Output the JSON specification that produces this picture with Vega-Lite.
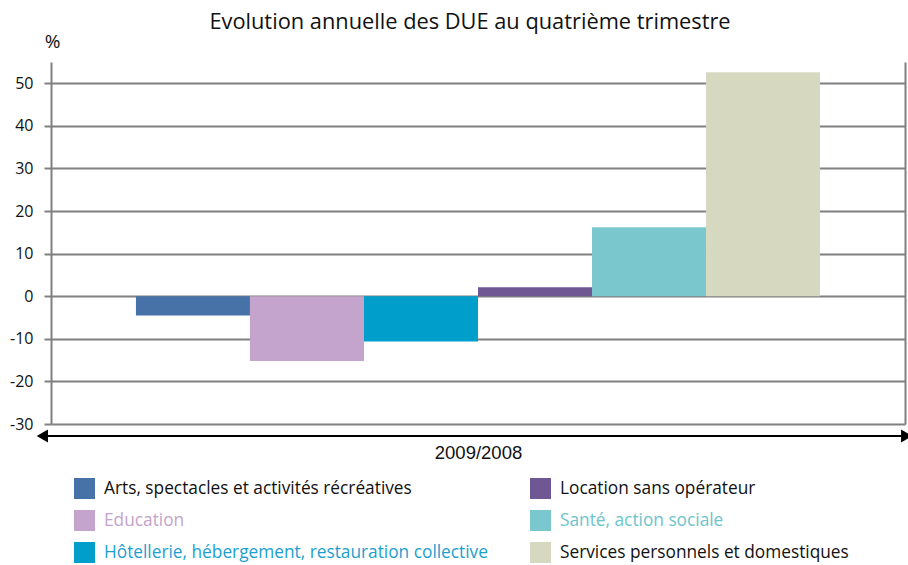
{
  "$schema": "https://vega.github.io/schema/vega-lite/v6.json",
  "width": 854,
  "height": 362,
  "autosize": {"type": "none"},
  "padding": {"left": 51, "top": 62, "right": 3, "bottom": 141},
  "background": "white",
  "config": {"view": {"stroke": null}, "font": "Open Sans"},
  "title": {
    "text": "Evolution annuelle des DUE au quatrième trimestre",
    "font": "Open Sans",
    "fontSize": 21.8,
    "fontWeight": "normal",
    "color": "#111111",
    "anchor": "middle",
    "frame": "group",
    "baseline": "alphabetic",
    "dx": -8,
    "offset": -19
  },
  "datasets": {
    "bars": [
      {"cat": "Arts, spectacles et activités récréatives", "value": -4.5},
      {"cat": "Education", "value": -15.2},
      {"cat": "Hôtellerie, hébergement, restauration collective", "value": -10.6},
      {"cat": "Location sans opérateur", "value": 2.1},
      {"cat": "Santé, action sociale", "value": 16.2},
      {"cat": "Services personnels et domestiques", "value": 52.6}
    ],
    "arrow": [{"a": 0, "b": 1}],
    "heads": [{"pos": 0, "shape": "triangle-left", "off": 4}, {"pos": 1, "shape": "triangle-right", "off": -4}]
  },
  "layer": [
    {
      "data": {"name": "bars"},
      "mark": {"type": "bar"},
      "encoding": {
        "x": {
          "field": "cat",
          "type": "nominal",
          "sort": null,
          "scale": {"paddingInner": 0, "paddingOuter": 0.745},
          "axis": {
            "labels": false,
            "ticks": false,
            "domain": false,
            "title": "2009/2008",
            "titleFont": "Liberation Sans",
            "titleFontSize": 18.5,
            "titleFontWeight": "normal",
            "titleColor": "#111111",
            "titlePadding": 19
          }
        },
        "y": {
          "field": "value",
          "type": "quantitative",
          "scale": {"domain": [-30, 55], "nice": false},
          "axis": {
            "values": [-30, -20, -10, 0, 10, 20, 30, 40, 50],
            "labelExpr": "'' + datum.value",
            "grid": true,
            "gridColor": "#808080",
            "gridWidth": 2,
            "gridOpacity": 1,
            "domain": true,
            "domainColor": "#808080",
            "domainWidth": 2,
            "ticks": true,
            "tickColor": "#808080",
            "tickWidth": 2,
            "tickSize": 7,
            "labelFont": "Open Sans",
            "labelFontSize": 16,
            "labelColor": "#111111",
            "labelPadding": 11,
            "title": "%",
            "titleAngle": 0,
            "titleX": 1,
            "titleY": -21,
            "titleAlign": "center",
            "titleBaseline": "middle",
            "titleFont": "Open Sans",
            "titleFontSize": 19,
            "titleFontWeight": "normal",
            "titleColor": "#111111"
          }
        },
        "color": {
          "field": "cat",
          "type": "nominal",
          "scale": {
            "domain": [
              "Arts, spectacles et activités récréatives",
              "Education",
              "Hôtellerie, hébergement, restauration collective",
              "Location sans opérateur",
              "Santé, action sociale",
              "Services personnels et domestiques"
            ],
            "range": ["#4672a8", "#c4a3cc", "#009ecb", "#6f5794", "#7ac7cd", "#d6d9c0"]
          },
          "legend": {
            "title": null,
            "orient": "none",
            "legendX": 23,
            "legendY": 416,
            "columns": 2,
            "symbolType": "square",
            "symbolSize": 441,
            "symbolStrokeWidth": 0,
            "symbolOpacity": 1,
            "labelFont": "Open Sans",
            "labelFontSize": 17.3,
            "labelOffset": 9,
            "labelLimit": 600,
            "rowPadding": 11,
            "columnPadding": 42,
            "encode": {
              "labels": {
                "update": {
                  "fill": {"signal": "datum.value == 'Education' ? '#c4a3cc' : datum.value == 'Santé, action sociale' ? '#6cc5cb' : datum.value == 'Hôtellerie, hébergement, restauration collective' ? '#1b9fcf' : '#111111'"}
                }
              }
            }
          }
        }
      }
    },
    {
      "data": {"name": "arrow"},
      "mark": {"type": "rule", "color": "#000000", "strokeWidth": 2, "yOffset": 12},
      "encoding": {
        "x": {"field": "a", "type": "quantitative", "scale": {"domain": [0.01, 0.998]}, "axis": null},
        "x2": {"field": "b"},
        "y": {
          "datum": -30,
          "type": "quantitative",
          "axis": {
            "orient": "right",
            "labels": false,
            "ticks": false,
            "grid": false,
            "title": null,
            "domain": true,
            "domainColor": "#808080",
            "domainWidth": 2
          }
        }
      }
    },
    {
      "data": {"name": "heads"},
      "mark": {"type": "point", "filled": true, "color": "#000000", "opacity": 1, "size": 170, "yOffset": 12},
      "encoding": {
        "x": {"field": "pos", "type": "quantitative", "scale": {"domain": [0.01, 0.998]}, "axis": null},
        "xOffset": {"field": "off", "type": "quantitative", "scale": null},
        "shape": {"field": "shape", "type": "nominal", "scale": null, "legend": null},
        "y": {"datum": -30, "type": "quantitative", "axis": null}
      }
    }
  ],
  "resolve": {"scale": {"x": "independent", "color": "independent", "shape": "independent"}, "axis": {"y": "independent"}}
}
